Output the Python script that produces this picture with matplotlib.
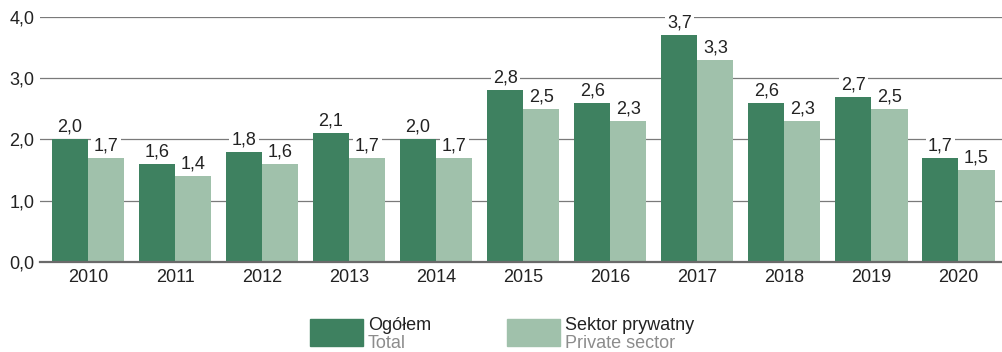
import numpy as np
import matplotlib.pyplot as plt
from matplotlib.patches import Rectangle

plt.rcParams['font.family'] = ['Liberation Sans', 'DejaVu Sans']

years = ['2010', '2011', '2012', '2013', '2014', '2015', '2016', '2017', '2018', '2019', '2020']
ogolem = [2.0, 1.6, 1.8, 2.1, 2.0, 2.8, 2.6, 3.7, 2.6, 2.7, 1.7]
prywatny = [1.7, 1.4, 1.6, 1.7, 1.7, 2.5, 2.3, 3.3, 2.3, 2.5, 1.5]

dark = '#3e8160'
light = '#a0c1ab'
fs = 13

fig = plt.figure(figsize=(10.02, 3.52), dpi=100)
ax = fig.add_axes([0.040, 0.256, 0.960, 0.696])

x = np.arange(len(years))
w = 0.415
b1 = ax.bar(x - w / 2, ogolem, w, color=dark, zorder=2)
b2 = ax.bar(x + w / 2, prywatny, w, color=light, zorder=2)

def fmt(v):
    return f'{v:.1f}'.replace('.', ',')

for bars, vals in ((b1, ogolem), (b2, prywatny)):
    for r, v in zip(bars, vals):
        ax.annotate(fmt(v), (r.get_x() + r.get_width() / 2, v), xytext=(0, 2.5),
                    textcoords='offset points', ha='center', va='bottom',
                    fontsize=fs, color='#222222', zorder=3,
                    bbox=dict(boxstyle='square,pad=0.12', fc='white', ec='none'))

ax.set_ylim(0, 4.0)
ax.set_xlim(-0.55, 10.5)
ax.set_yticks([0, 1, 2, 3, 4])
ax.set_yticklabels([fmt(t) for t in [0, 1, 2, 3, 4]], fontsize=fs, color='#222222')
ax.set_xticks(x)
ax.set_xticklabels(years, fontsize=fs, color='#222222')
ax.tick_params(length=0, pad=5)
ax.tick_params(axis='y', pad=4)
ax.grid(axis='y', color='#7a7a7a', linewidth=0.9, zorder=0)
for s in ['top', 'right', 'left']:
    ax.spines[s].set_visible(False)
ax.spines['bottom'].set_color('#6a6a6a')
ax.spines['bottom'].set_linewidth(1.6)
ax.set_axisbelow(True)

# legend drawn by hand: swatch + two-line label
W, H = 1002.0, 352.0
entries = [(310, dark, 'Ogółem', 'Total'), (507, light, 'Sektor prywatny', 'Private sector')]
for px, col, pl, en in entries:
    fig.patches.append(Rectangle((px / W, 1 - 346 / H), 53 / W, 27 / H,
                                 transform=fig.transFigure, color=col))
    fig.text((px + 58) / W, 1 - 325 / H, pl, fontsize=fs, color='#222222', va='center')
    fig.text((px + 58) / W, 1 - 343 / H, en, fontsize=fs, color='#8c8c8c', va='center')

fig.savefig('out.png', dpi=100)
